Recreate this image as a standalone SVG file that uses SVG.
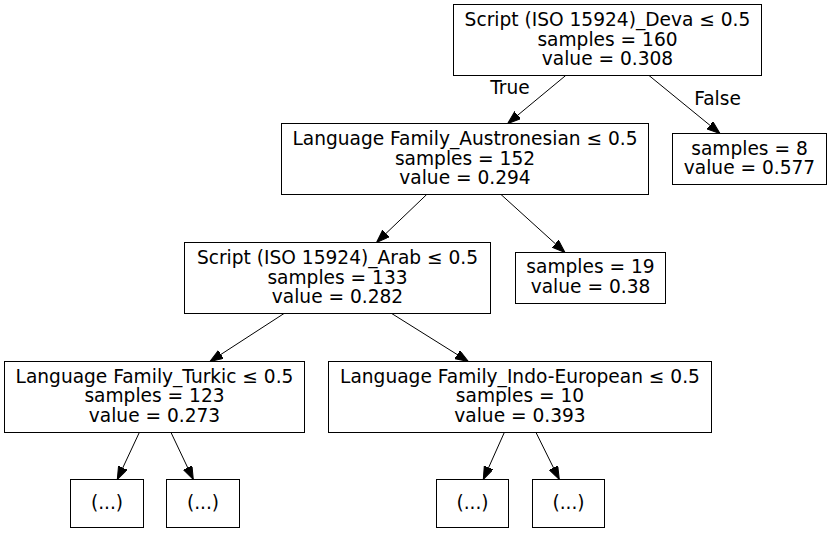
<svg xmlns="http://www.w3.org/2000/svg" width="833" height="533" viewBox="0 0 833 533">
<style>
.box{fill:#fff;stroke:#000;stroke-width:1}
text{font-family:"DejaVu Sans",sans-serif;font-size:18.6px;fill:#000;text-anchor:middle}
.edge{stroke:#000;stroke-width:1;fill:none;marker-end:url(#arr)}
</style>
<defs>
<marker id="arr" markerUnits="userSpaceOnUse" markerWidth="14" markerHeight="10" refX="13" refY="4.7" orient="auto">
<path d="M0,0 L13,4.7 L0,9.4 Z" fill="#000" stroke="#000" stroke-width="1"/>
</marker>
</defs>
<rect width="833" height="533" fill="#fff"/>
<g id="edges">
<line class="edge" x1="565.7" y1="75.5" x2="507.7" y2="123.5"/>
<line class="edge" x1="649" y1="75.5" x2="720" y2="133.5"/>
<line class="edge" x1="426.7" y1="194.5" x2="376.5" y2="242.5"/>
<line class="edge" x1="501" y1="194.5" x2="565" y2="252.5"/>
<line class="edge" x1="284" y1="313.5" x2="210" y2="361.5"/>
<line class="edge" x1="391.7" y1="313.5" x2="468.3" y2="361.5"/>
<line class="edge" x1="139.3" y1="432.5" x2="117.3" y2="479.5"/>
<line class="edge" x1="171" y1="432.5" x2="193.3" y2="479.5"/>
<line class="edge" x1="504.3" y1="432.5" x2="483.3" y2="479.5"/>
<line class="edge" x1="536" y1="432.5" x2="559.3" y2="479.5"/>
<text x="510" y="94">True</text>
<text x="717.5" y="105">False</text>
</g>
<g id="n0">
<rect class="box" x="453.5" y="4.5" width="308" height="71"/>
<text x="607.5" y="26">Script (ISO 15924)_Deva ≤ 0.5</text>
<text x="607.5" y="45.5">samples = 160</text>
<text x="607.5" y="65">value = 0.308</text>
</g>
<g id="n1">
<rect class="box" x="281.5" y="123.5" width="367" height="71"/>
<text x="465" y="145">Language Family_Austronesian ≤ 0.5</text>
<text x="465" y="164.5">samples = 152</text>
<text x="465" y="184">value = 0.294</text>
</g>
<g id="n2">
<rect class="box" x="672.5" y="133.5" width="154" height="51"/>
<text x="749.5" y="154.5">samples = 8</text>
<text x="749.5" y="174">value = 0.577</text>
</g>
<g id="n3">
<rect class="box" x="184.5" y="242.5" width="306" height="71"/>
<text x="337.5" y="264">Script (ISO 15924)_Arab ≤ 0.5</text>
<text x="337.5" y="283.5">samples = 133</text>
<text x="337.5" y="303">value = 0.282</text>
</g>
<g id="n4">
<rect class="box" x="515.5" y="252.5" width="150" height="51"/>
<text x="590.5" y="273">samples = 19</text>
<text x="590.5" y="292.5">value = 0.38</text>
</g>
<g id="n5">
<rect class="box" x="4.5" y="361.5" width="300" height="71"/>
<text x="154.5" y="382.5">Language Family_Turkic ≤ 0.5</text>
<text x="154.5" y="402">samples = 123</text>
<text x="154.5" y="421.5">value = 0.273</text>
</g>
<g id="n6">
<rect class="box" x="328.5" y="361.5" width="383" height="71"/>
<text x="520" y="382.5">Language Family_Indo-European ≤ 0.5</text>
<text x="520" y="402">samples = 10</text>
<text x="520" y="421.5">value = 0.393</text>
</g>
<g id="n7">
<rect class="box" x="70.5" y="479.5" width="73" height="48"/>
<text x="107" y="509">(...)</text>
</g>
<g id="n8">
<rect class="box" x="166.5" y="479.5" width="73" height="48"/>
<text x="203" y="509">(...)</text>
</g>
<g id="n9">
<rect class="box" x="436.5" y="479.5" width="72" height="48"/>
<text x="472.5" y="509">(...)</text>
</g>
<g id="n10">
<rect class="box" x="532.5" y="479.5" width="72" height="48"/>
<text x="568.5" y="509">(...)</text>
</g>
</svg>
